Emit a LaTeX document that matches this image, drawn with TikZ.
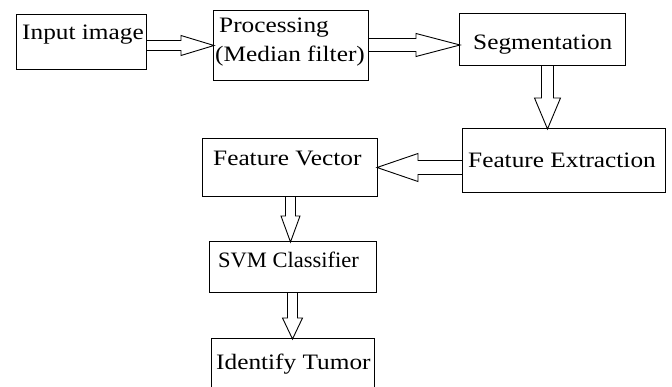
\documentclass[tikz,border=0pt]{standalone}
\usepackage{fontspec}
\setmainfont{Liberation Serif}[FakeStretch=1.15]
\usetikzlibrary{calc}
\begin{document}
\begin{tikzpicture}[x=1pt,y=-1pt,
  box/.style={draw=black, line width=1pt, rectangle, anchor=north west, inner sep=0pt, fill=white},
  lbl/.style={anchor=base west, inner sep=0pt, font=\fontsize{22}{26}\selectfont},
  blk/.style={draw=black, line width=0.9pt, line join=miter}]
\useasboundingbox (0,0) rectangle (672,387);
% boxes
\node[box, minimum width=130pt, minimum height=55pt] (in)   at (16,14)  {};
\node[box, minimum width=155pt, minimum height=70pt] (proc) at (213,10) {};
\node[box, minimum width=166pt, minimum height=52pt] (seg)  at (459,13) {};
\node[box, minimum width=203pt, minimum height=64pt] (fe)   at (462,128) {};
\node[box, minimum width=175pt, minimum height=58pt] (fv)   at (202,138) {};
\node[box, minimum width=167pt, minimum height=51pt] (svm)  at (209,241) {};
\node[box, minimum width=163pt, minimum height=70pt] (idt)  at (211,338) {};
% labels
\node[lbl] (tin)   at (22,40)   {Input image};
\node[lbl] (tpr1)  at (219,33)  {Processing};
\node[lbl] (tpr2)  at (215,62)  {(Median filter)};
\node[lbl] (tseg)  at (473,50)  {Segmentation};
\node[lbl] (tfe)   at (468,168) {Feature Extraction};
\node[lbl] (tfv)   at (213,166) {Feature Vector};
\node[lbl, xscale=0.89] (tsvm)  at (218,268) {SVM Classifier};
\node[lbl] (tid)   at (216,370) {Identify Tumor};
% block arrows
\begin{scope}[shift={(in.east |- proc.west)}]
  \draw[blk] (0,-5) -- (34,-5) -- (34,-10) -- (67,0) -- (34,10) -- (34,5) -- (0,5);
\end{scope}
\begin{scope}[shift={($(proc.east)+(0,-0.5)$)}]
  \draw[blk] (0,-6.5) -- (47,-6.5) -- (47,-11.5) -- (91,0) -- (47,11.5) -- (47,6.5) -- (0,6.5);
\end{scope}
\begin{scope}[shift={($(seg.south)+(5,0)$)}, rotate=-90]
  \draw[blk] (0,-6) -- (32,-6) -- (32,-13) -- (63,0) -- (32,13) -- (32,6) -- (0,6);
\end{scope}
\begin{scope}[shift={(fe.west |- fv.east)}, rotate=180]
  \draw[blk] (0,-7) -- (44,-7) -- (44,-14) -- (85,0) -- (44,14) -- (44,7) -- (0,7);
\end{scope}
\begin{scope}[shift={($(fv.south)+(0.5,0)$)}, rotate=-90]
  \draw[blk] (0,-5) -- (19,-5) -- (19,-9.5) -- (45,0) -- (19,9.5) -- (19,5) -- (0,5);
\end{scope}
\begin{scope}[shift={($(svm.south)+(-0.5,0)$)}, rotate=-90]
  \draw[blk] (0,-5) -- (25,-5) -- (25,-10) -- (46,0) -- (25,10) -- (25,5) -- (0,5);
\end{scope}
\end{tikzpicture}
\end{document}
